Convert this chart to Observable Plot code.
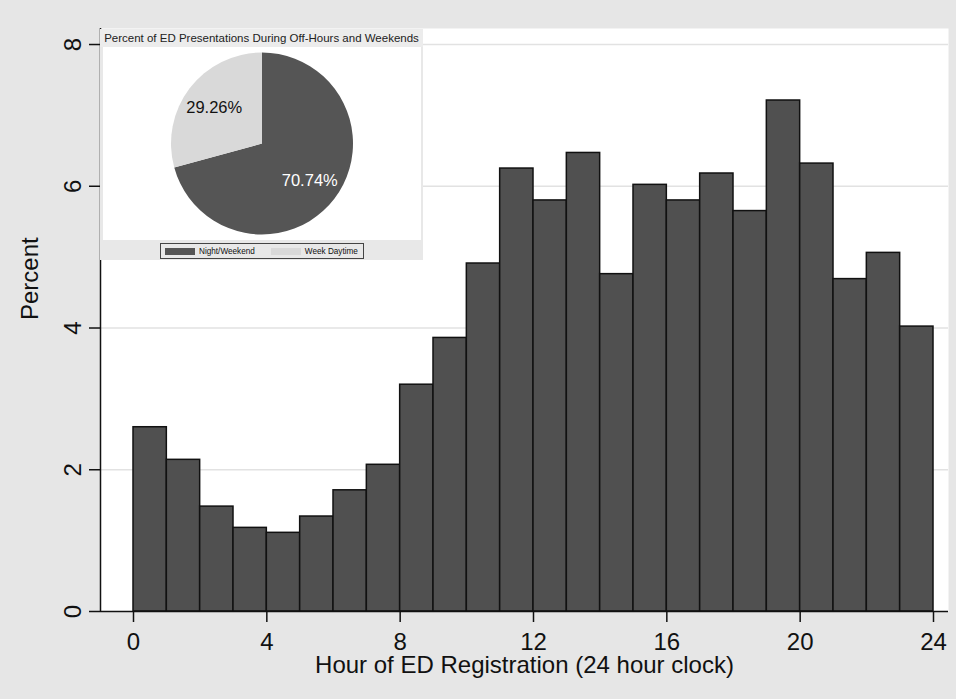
<!DOCTYPE html>
<html><head><meta charset="utf-8">
<script src="https://cdn.jsdelivr.net/npm/d3@7"></script>
<script src="https://cdn.jsdelivr.net/npm/@observablehq/plot@0.6"></script>
<style>
body{margin:0;background:#e6e6e6;font-family:"Liberation Sans",Arial,sans-serif;}
#wrap{position:relative;width:956px;height:699px;overflow:hidden;background:#e6e6e6;}
#wrap > svg{position:absolute;left:0;top:0;}
#inset{position:absolute;left:100px;top:29px;width:323px;height:231px;background:#e8e8e8;}
#inset .title{position:absolute;left:0;top:0;width:323px;height:18px;line-height:19px;text-align:center;font-size:11.5px;color:#222;background:#ececec;white-space:nowrap;}
#inset .pie{position:absolute;left:3px;top:18px;width:318px;height:193px;background:#fff;}
#inset .legend{position:absolute;left:60px;top:214px;width:202px;height:14px;border:1px solid #444;display:flex;align-items:center;font-size:8.2px;color:#111;white-space:nowrap;}
#inset .sw{display:inline-block;width:30px;height:7px;margin-left:4px;margin-right:4px;}
</style></head><body>
<div id="wrap"><div id="inset"><div class="title"></div><div class="pie"></div><div class="legend"></div></div></div>
<script>
// ---- data ----
const hourStart = [0,1,2,3,4,5,6,7,8,9,10,11,12,13,14,15,16,17,18,19,20,21,22,23];
const percents  = [2.60,2.14,1.48,1.18,1.11,1.34,1.71,2.07,3.20,3.86,4.91,6.25,5.80,6.47,4.76,6.02,5.80,6.18,5.65,7.21,6.32,4.69,5.06,4.02];
const xTicks = [0,4,8,12,16,20,24];
const yTicks = [0,2,4,6,8];
const xLabel = "Hour of ED Registration (24 hour clock)";
const yLabel = "Percent";
const pieCategories = ["Night/Weekend","Week Daytime"];
const pieValues = [70.74, 29.26];
const pieColors = ["#555555","#d9d9d9"];
const pieLabelColors = ["#ffffff","#111111"];
const insetTitle = "Percent of ED Presentations During Off-Hours and Weekends";

// ---- main histogram ----
const xDomain = [-0.99, 24.45];
const yDomain = [0, 8.226];
const bars = hourStart.map((h,i)=>({h, p: percents[i]}));
const font = "Liberation Sans, Arial, sans-serif";

const chart = Plot.plot({
  width: 956, height: 699,
  marginLeft: 100, marginRight: 8, marginTop: 28, marginBottom: 88,
  style: {background: "#e6e6e6", fontFamily: font, color: "#111", overflow: "visible"},
  x: {domain: xDomain},
  y: {domain: yDomain},
  marks: [
    Plot.frame({fill: "white", stroke: null}),
    Plot.ruleY(yTicks.filter(d=>d>0), {stroke: "#e2e2e2", strokeWidth: 1.5}),
    Plot.rectY(bars, {x1: "h", x2: d=>d.h+1, y: "p", fill: "#505050", stroke: "#111", strokeWidth: 1.5, inset: 0}),
    Plot.ruleX([xDomain[0]], {stroke: "#111", strokeWidth: 1.5}),
    Plot.ruleY([0], {stroke: "#111", strokeWidth: 1.5}),
    Plot.axisX({ticks: xTicks, tickSize: 11, tickPadding: 10, fontSize: 24, label: null, strokeWidth: 1.5}),
    Plot.axisY({ticks: yTicks, tickSize: 11, tickPadding: 9, tickRotate: -90, fontSize: 24, label: null, strokeWidth: 1.5}),
    Plot.text([yLabel], {text: d=>d, frameAnchor: "left", dx: -70, rotate: -90, fontSize: 24}),
    Plot.text([xLabel], {text: d=>d, frameAnchor: "bottom", dy: 61.5, fontSize: 24})
  ]
});
document.getElementById("wrap").prepend(chart);

// ---- inset pie ----
const inset = document.getElementById("inset");
inset.querySelector(".title").textContent = insetTitle;
const pieW = 318, pieH = 193, pieR = 91;
const pieData = pieCategories.map((c,i)=>({c, v: pieValues[i], fill: pieColors[i], tc: pieLabelColors[i]}));
const pieChart = Plot.plot({
  width: pieW, height: pieH, margin: 0,
  style: {background: "white", fontFamily: font, overflow: "visible"},
  marks: [
    () => {
      const g = d3.create("svg:g").attr("transform", `translate(${pieW/2},${pieH/2})`);
      const arcs = d3.pie().sort(null).value(d=>d.v)(pieData);
      const arc = d3.arc().innerRadius(0).outerRadius(pieR);
      const lab = d3.arc().innerRadius(pieR*0.66).outerRadius(pieR*0.66);
      g.selectAll("path").data(arcs).join("path").attr("d", arc).attr("fill", d=>d.data.fill);
      g.selectAll("text").data(arcs).join("text")
        .attr("transform", d=>`translate(${lab.centroid(d)})`)
        .attr("text-anchor","middle").attr("dy","0.35em")
        .attr("font-size", 16.5).attr("fill", d=>d.data.tc)
        .text(d=>d.data.v.toFixed(2)+"%");
      return g.node();
    }
  ]
});
inset.querySelector(".pie").append(pieChart);
const legend = inset.querySelector(".legend");
pieCategories.forEach((c,i)=>{
  const sw = document.createElement("span"); sw.className="sw"; sw.style.background = pieColors[i];
  if (i>0) sw.style.marginLeft = "16px";
  const t = document.createElement("span"); t.textContent = c;
  legend.append(sw, t);
});
</script>
</body></html>
